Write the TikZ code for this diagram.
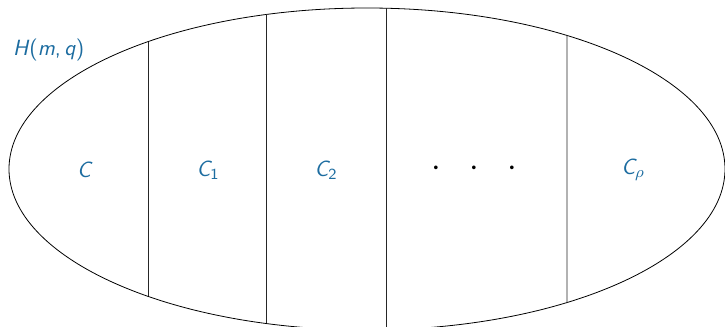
\documentclass[tikz,border=0pt]{standalone}
\usepackage{amsmath}
\usetikzlibrary{intersections}
\definecolor{partblue}{RGB}{28,108,160}

\begin{document}
\begin{tikzpicture}[
    x=0.5pt, y=0.5pt,
    every node/.style={font=\sffamily\fontsize{11}{13}\selectfont},
    part/.style={text=partblue},
    cut/.style={draw=black!85, line width=0.4pt}
  ]
    \useasboundingbox (0,0) rectangle (725,327);
    \clip (0,0) rectangle (725,327);

    % the outer region
    \coordinate (centre) at (367,158);
    \draw[name path=rim, line width=0.4pt] (centre) ellipse (358 and 161);
    \node[part, anchor=west] (graph) at (6,277) {\textsl{H}(\textsl{m},\,\textsl{q})};

    % vertical cuts
    \foreach \x [count=\i] in {148,266,386,567} {
      \path[name path=line\i] (\x,-20) -- (\x,340);
      \path[name intersections={of=rim and line\i, by={top\i,bot\i}}];
      \draw[cut] (top\i) -- (bot\i);
    }

    % the parts
    \node[part] (c0) at (85,157) {\textsl{C}};
    \node[part] (c1) at (208,157) {$\textsl{C}_{\text{1}}$};
    \node[part] (c2) at (326,157) {$\textsl{C}_{\text{2}}$};
    \node[font=\fontsize{17}{17}\selectfont] (dots) at (474,158) {${\cdot}\hspace{14.3pt}{\cdot}\hspace{14.3pt}{\cdot}$};
    \node[part] (crho) at (633,157) {$\textsl{C}_\rho$};
\end{tikzpicture}
\end{document}
